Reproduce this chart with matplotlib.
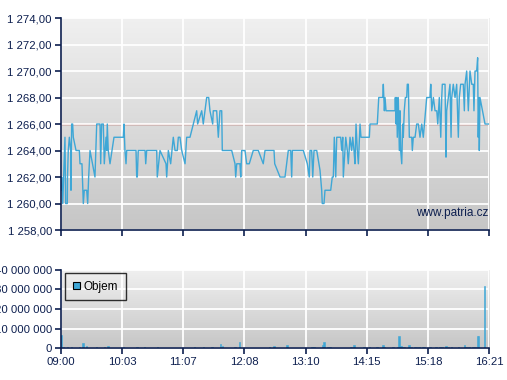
import numpy as np
from matplotlib import pyplot as plt
from matplotlib.ticker import FuncFormatter
from matplotlib.colors import LinearSegmentedColormap

plt.rcParams['font.family'] = ['Liberation Sans', 'DejaVu Sans']

# minuty od 09:00
cas_kurz = [0, 0.7, 1.8, 4.1, 4.8, 6.5, 6.7, 7.5, 8.6, 10, 10.3, 11, 12, 12.7, 15.5, 18.9,
            19.6, 21.6, 23, 24, 26.5, 27.5, 28.5, 29.9, 35, 36.8, 40.2, 40.9, 41.9, 43.6,
            44.6, 46.4, 47.1, 47.7, 48.7, 50.5, 54.6, 64.2, 64.9, 65.9, 67, 67.7, 77.3,
            78, 78.6, 79.6, 86.6, 87.3, 88.3, 98.6, 99.2, 102, 108.2, 108.9, 110.6, 113,
            115.7, 117.5, 119.8, 120.9, 122.6, 124.4, 127.8, 129.5, 132.9, 136.3, 139.8,
            140.8, 145, 146.6, 148.4, 150.1, 152.2, 153.5, 156.3, 156.9, 160.4, 162.1,
            163.8, 165.6, 166.2, 175.9, 179.3, 180, 181.1, 184.4, 185.2, 186.2, 189.6,
            191.3, 194, 198.1, 203.3, 208.4, 210.2, 215.3, 219.5, 220.2, 225.7, 230.8,
            234.2, 236.7, 237.7, 238.4, 249.7, 253.8, 255.8, 256.6, 258.3, 259.4, 260.7,
            263.5, 266.9, 268.6, 269.2, 271, 272, 277.9, 279.5, 280.6, 281.6, 283.1,
            284.1, 288.2, 289.3, 290.3, 290.9, 292.6, 293.4, 295, 296, 297.8, 299.5,
            300.6, 301.9, 302.9, 304, 305.3, 306.4, 308.1, 309.1, 317.7, 318.4, 325.9,
            326.6, 327.4, 331.5, 332.1, 333.2, 333.9, 334.9, 344.2, 344.5, 345.2, 345.9,
            346.5, 347.5, 348.6, 349.3, 350, 351.1, 352.1, 352.7, 353.7, 354.8, 356.2,
            356.8, 357.9, 358.6, 358.9, 361.4, 362, 363, 364.8, 366.5, 368.2, 369.9,
            371.7, 373.3, 376.8, 380.2, 381, 382, 383.7, 385.4, 387.2, 388.2, 389.8,
            391.3, 392.3, 392.9, 395.7, 396.7, 397.4, 399.1, 400.8, 401.9, 402.6, 404.2,
            406, 407.7, 409.4, 410.4, 411.8, 414.5, 415.6, 416.3, 418, 419.7, 421.4,
            423.2, 424.8, 425.5, 426.6, 428.3, 429.3, 429.9, 430.7, 431, 431.7, 436.9, 441]
kurz = [1261, 1262, 1260, 1265, 1260, 1260, 1262, 1264, 1265, 1264, 1261, 1266, 1266, 1265,
        1264, 1264, 1263, 1263, 1260, 1261, 1261, 1260, 1262, 1264, 1262, 1266, 1266, 1263,
        1266, 1266, 1263, 1265, 1264, 1266, 1264, 1263, 1265, 1265, 1266, 1264, 1263, 1264,
        1264, 1262, 1262, 1264, 1264, 1263, 1264, 1264, 1262, 1264, 1263, 1262, 1264, 1263,
        1265, 1264, 1264, 1265, 1265, 1264, 1263, 1265, 1265, 1266, 1267, 1266, 1267, 1266,
        1267, 1268, 1268, 1267, 1266, 1267, 1267, 1265, 1267, 1267, 1264, 1264, 1263, 1262,
        1263, 1263, 1262, 1264, 1264, 1263, 1263, 1264, 1264, 1263, 1264, 1264, 1264, 1263,
        1262, 1262, 1264, 1264, 1262, 1264, 1264, 1263, 1262, 1264, 1264, 1262, 1264, 1264,
        1262.5, 1261, 1260, 1260, 1261, 1261, 1262, 1262, 1265, 1262, 1265, 1265, 1264,
        1265, 1262, 1264, 1265, 1264, 1263, 1265, 1264, 1265, 1264, 1263, 1266, 1264, 1263,
        1266, 1265, 1265, 1266, 1266, 1267, 1268, 1268, 1269, 1267, 1268, 1267, 1267, 1268,
        1266, 1268, 1265, 1268, 1264, 1267, 1264, 1263, 1266, 1265, 1267, 1268, 1268, 1269,
        1269, 1266, 1265, 1265, 1264, 1265, 1265, 1266, 1266, 1265, 1266, 1265, 1268, 1268,
        1269, 1267, 1268, 1267, 1267, 1266, 1268, 1265, 1268, 1269, 1269, 1263.5, 1267,
        1268, 1269, 1265, 1268, 1269, 1268, 1269, 1265, 1268, 1269, 1269, 1267, 1269, 1270,
        1267, 1270, 1269, 1269, 1267, 1270, 1270, 1271, 1265, 1268, 1264, 1268, 1266, 1266]

cas_objem = [0, 3, 7, 11, 19.5, 22.7, 26.5, 37, 45.3, 48.4, 64, 78.3, 86.5, 99, 138, 147.3,
             155.6, 164.8, 166, 179.3, 184.4, 215.3, 219.5, 232.9, 258.6, 260.7, 269, 271,
             275.1, 277.2, 298.8, 301.9, 312.2, 317.4, 325.6, 331.8, 332.8, 342.1, 347.2,
             348.3, 350.3, 352.4, 354.4, 358.6, 360.7, 363.8, 365.8, 368.9, 372, 374, 380.2,
             386.4, 390.5, 392.6, 396.7, 398.8, 401.9, 409.1, 415.3, 417.3, 420.4, 424.5,
             426.6, 429.2, 430.2, 435.9]
objem = [6.7, 0.5, 0.4, 0.4, 0.4, 2.7, 1.1, 0.4, 0.4, 1.0, 0.4, 0.3, 0.3, 0.3, 0.5, 0.5,
         0.4, 2.0, 0.8, 0.5, 3.0, 0.4, 1.0, 1.7, 0.5, 0.5, 1.5, 3.3, 0.5, 0.5, 0.5, 1.3,
         0.4, 0.4, 0.4, 1.3, 0.6, 0.4, 0.5, 6.0, 1.0, 0.5, 0.5, 1.5, 0.5, 0.5, 0.5, 0.5,
         0.4, 0.4, 0.5, 0.6, 0.6, 0.5, 1.2, 0.6, 0.5, 0.4, 1.7, 0.5, 0.5, 0.5, 0.6, 6.0,
         6.0, 32.0]
objem = [v * 1e6 for v in objem]

tick_pozice = [0, 63, 126, 189, 252, 315, 378, 441]
tick_popisky = ['09:00', '10:03', '11:07', '12:08', '13:10', '14:15', '15:18', '16:21']
predchozi_zavreni = 1266

navy = '#0d1f4f'
modra = '#3fa7d6'
gradient = LinearSegmentedColormap.from_list('g', ['#c6c6c6', '#f0f0f0'])


def pozadi(ax):
    ax.imshow(np.linspace(0, 1, 256).reshape(-1, 1)[::-1], cmap=gradient, aspect='auto',
              extent=[0, 1, 0, 1], transform=ax.transAxes, zorder=0)
    ax.set_facecolor('#dddddd')
    ax.grid(True, color='white', lw=1.3, zorder=1)
    ax.set_axisbelow(False)
    for s in ['top', 'right']:
        ax.spines[s].set_visible(False)
    for s in ['left', 'bottom']:
        ax.spines[s].set_color(navy)
        ax.spines[s].set_linewidth(1.2)
        ax.spines[s].set_zorder(5)
    ax.tick_params(colors=navy, length=4, width=1.2, labelsize=8.2, labelcolor=navy, pad=2.5)
    ax.set_xlim(0, 441)
    ax.set_xticks(tick_pozice)


fig = plt.figure(figsize=(5.07, 3.80), dpi=100)
ax1 = fig.add_axes([0.1203, 0.3947, 0.8442, 0.5579])
ax2 = fig.add_axes([0.1203, 0.0842, 0.8442, 0.2053])

pozadi(ax1)
ax1.plot(cas_kurz, kurz, color=modra, lw=1, zorder=3)
ax1.axhline(predchozi_zavreni, color='#a5372f', lw=1, zorder=2)
ax1.set_ylim(1258, 1274)
ax1.set_yticks(np.arange(1258, 1275, 2))
ax1.yaxis.set_major_formatter(FuncFormatter(lambda v, p: f"{v:,.2f}".replace(",", " ").replace(".", ",")))
ax1.set_xticklabels([])
ax1.text(0.913, 0.08, 'www.patria.cz', transform=ax1.transAxes, ha='center', va='center',
         color=navy, fontsize=8.5, zorder=4)

pozadi(ax2)
ax2.bar(cas_objem, objem, width=1.1, color=modra, edgecolor=modra, linewidth=0.4,
        zorder=3, label='Objem')
ax2.set_ylim(0, 40e6)
ax2.set_yticks(np.arange(0, 40e6 + 1, 10e6))
ax2.yaxis.set_major_formatter(FuncFormatter(lambda v, p: f"{v:,.0f}".replace(",", " ")))
ax2.set_xticklabels(tick_popisky)
leg = ax2.legend(loc='upper left', fancybox=False, facecolor='none', edgecolor='black',
                 fontsize=8.5, handlelength=0.6, handleheight=0.6, borderpad=0.65,
                 handletextpad=0.35, borderaxespad=0, bbox_to_anchor=(0.009, 0.96))
leg.get_frame().set_linewidth(1)
leg.set_zorder(6)
for h in leg.legend_handles:
    h.set_edgecolor('black')
    h.set_linewidth(0.8)

plt.savefig('out.png', dpi=100)
